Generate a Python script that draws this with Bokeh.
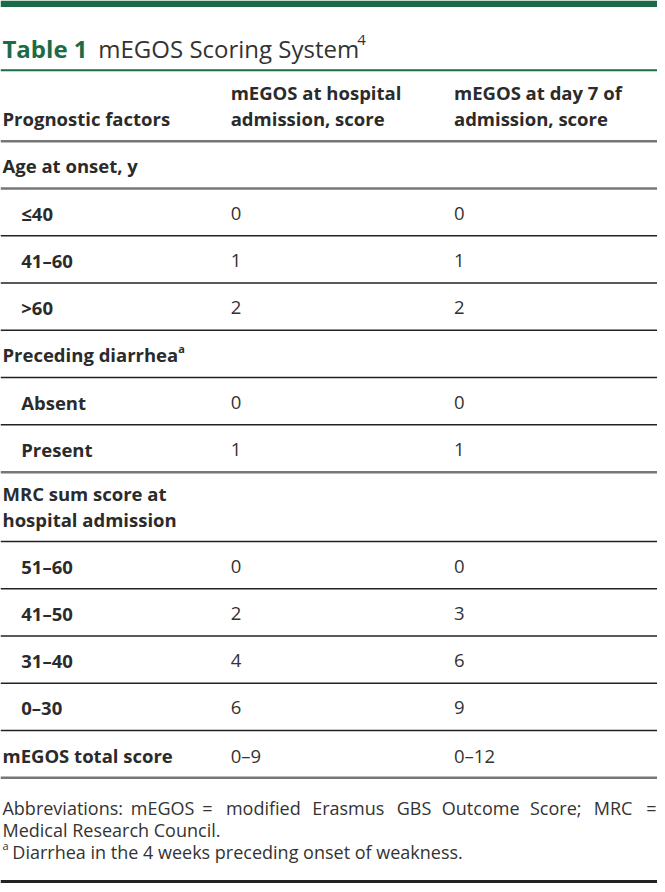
from bokeh.plotting import figure
from bokeh.models import Range1d
from bokeh.core.properties import value
from bokeh.embed import file_html
from bokeh.resources import INLINE

# ---------------- data ----------------
table_label = "Table 1"
table_title = "mEGOS Scoring System"
title_ref = "4"

col_headers = ["Prognostic factors",
               "mEGOS at hospital\nadmission, score",
               "mEGOS at day 7 of\nadmission, score"]

factors = ["Age at onset, y", "≤40", "41–60", ">60",
           "Preceding diarrhea", "Absent", "Present",
           "MRC sum score at\nhospital admission",
           "51–60", "41–50", "31–40", "0–30",
           "mEGOS total score"]
factor_note = ["", "", "", "", "a", "", "", "", "", "", "", "", ""]
is_section = [True, False, False, False, True, False, False, True,
              False, False, False, False, True]
hosp_scores = ["", "0", "1", "2", "", "0", "1", "", "0", "2", "4", "6", "0–9"]
day7_scores = ["", "0", "1", "2", "", "0", "1", "", "0", "3", "6", "9", "0–12"]
gray_rule_after = [True, False, False, False, False, False, True, False,
                   False, False, False, False, True]

abbrev_words = ["Abbreviations:", "mEGOS", "=", "modified", "Erasmus", "GBS",
                "Outcome", "Score;", "MRC", "="]
abbrev_line2 = "Medical Research Council."
footnote_mark = "a"
footnote_text = "Diarrhea in the 4 weeks preceding onset of weakness."

# ---------------- style / layout ----------------
GREEN = "#1b6b47"
TEXT = "#2b2b2b"
FONT = value("Open Sans")
W, H = 657, 884
X0, X1, X2 = 2, 233, 459          # column left edges (reference pixels)
SUB_INDENT = 19
ROW_H, ROW_H2 = 47.7, 70.0
TABLE_TOP = 142.0
BODY_SIZE = "18.5px"

p = figure(width=W, height=H, x_range=Range1d(0, 665), y_range=Range1d(892, 0),
           output_backend="svg", toolbar_location=None, min_border=0,
           background_fill_color="white", border_fill_color="white")
p.xaxis.visible = False
p.yaxis.visible = False
p.xgrid.visible = False
p.ygrid.visible = False
p.outline_line_color = None

# top green bar
p.quad(left=[0], right=[665], top=[0], bottom=[6.5], fill_color=GREEN, line_color=None)

# title
p.text(x=[X0], y=[48], text=[table_label], text_font=FONT, text_font_size="24px",
       text_font_style="bold", text_color=GREEN, text_baseline="alphabetic")
p.text(x=[99], y=[48], text=[table_title], text_font=FONT, text_font_size="24px",
       text_color="#333333", text_baseline="alphabetic")
p.text(x=[361], y=[40], text=[title_ref], text_font=FONT, text_font_size="15px",
       text_color="#333333", text_baseline="alphabetic")

# green rule below title
p.segment(x0=[0], x1=[665], y0=[70.5], y1=[70.5], line_color=GREEN, line_width=2)

# header
hdr_style = dict(text_font=FONT, text_font_size=BODY_SIZE, text_font_style="bold",
                 text_color=TEXT, text_baseline="middle", text_align="left")
p.text(x=[X0], y=[119], text=[col_headers[0]], **hdr_style)
for cx, h in ((X1, col_headers[1]), (X2, col_headers[2])):
    l1, l2 = h.split("\n")
    p.text(x=[cx, cx], y=[93, 119], text=[l1, l2], **hdr_style)

# rule below header
p.segment(x0=[0], x1=[665], y0=[TABLE_TOP], y1=[TABLE_TOP], line_color="#777777", line_width=2.5)

# body rows
y = TABLE_TOP
bx, by, bt = [], [], []
vx, vy, vt = [], [], []
rx0, rx1, ry, rc, rw = [], [], [], [], []
for i, f in enumerate(factors):
    lines = f.split("\n")
    h = ROW_H2 if len(lines) > 1 else ROW_H
    mid = y + h / 2
    x = X0 if is_section[i] else X0 + SUB_INDENT
    if len(lines) == 1:
        bx.append(x); by.append(mid + 1); bt.append(f)
    else:
        for k, ln in enumerate(lines):
            bx.append(x); by.append(mid - 13 + 26 * k); bt.append(ln)
    if factor_note[i]:
        p.text(x=[x + 178], y=[mid - 6], text=[factor_note[i]], text_font=FONT,
               text_font_size="11px", text_font_style="bold", text_color=TEXT,
               text_baseline="middle")
    if hosp_scores[i]:
        vx += [X1, X2]; vy += [mid + 1, mid + 1]; vt += [hosp_scores[i], day7_scores[i]]
    y += h
    rx0.append(0); rx1.append(665); ry.append(y)
    rc.append("#777777" if gray_rule_after[i] else "#222222")
    rw.append(2.5 if gray_rule_after[i] else 1.5)

p.text(x=bx, y=by, text=bt, **hdr_style)
p.text(x=vx, y=vy, text=vt, text_font=FONT, text_font_size=BODY_SIZE,
       text_color="#333333", text_baseline="middle", text_align="left")
p.segment(x0=rx0, x1=rx1, y0=ry, y1=ry, line_color=rc, line_width=rw)

# footnotes (first line justified)
word_centers = [None, 164, 209.5, 266, 352, 418.5, 486, 562, 620, None]
fn_style = dict(text_font=FONT, text_font_size="18px", text_color="#333333",
                text_baseline="middle")
fy1 = 815
p.text(x=[X0], y=[fy1], text=[abbrev_words[0]], text_align="left", **fn_style)
p.text(x=word_centers[1:-1], y=[fy1] * (len(abbrev_words) - 2), text=abbrev_words[1:-1],
       text_align="center", **fn_style)
p.text(x=[664], y=[fy1], text=[abbrev_words[-1]], text_align="right", **fn_style)
p.text(x=[X0], y=[837], text=[abbrev_line2], text_align="left", **fn_style)
p.text(x=[X0], y=[853], text=[footnote_mark], text_font=FONT, text_font_size="11px",
       text_color="#333333", text_baseline="middle")
p.text(x=[12], y=[859], text=[footnote_text], text_align="left", **fn_style)

# bottom rule
p.segment(x0=[0], x1=[665], y0=[889], y1=[889], line_color="#222222", line_width=3)

open("out.html", "w").write(file_html(p, INLINE))
